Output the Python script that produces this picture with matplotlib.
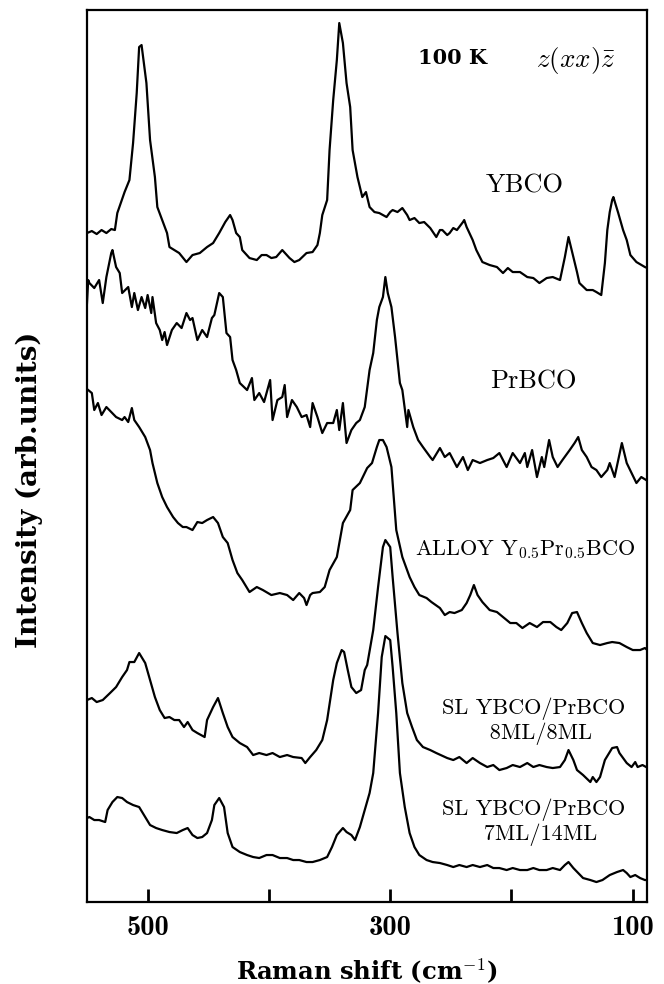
import matplotlib
matplotlib.use("Agg")
import matplotlib.pyplot as plt

# Raman spectra at 100 K, z(xx)z-bar geometry (offset curves, arb. units)
ybco_x = [550, 546, 542, 538, 534, 530, 527, 525, 519, 515, 512, 509, 507, 505, 501, 498,
          494, 492, 488, 484, 482, 474, 468, 463, 457, 451, 446, 441, 436, 432, 430, 427,
          424, 422, 416, 410, 406, 402, 398, 394, 389, 383, 379, 375, 369, 364, 360, 358,
          356, 352, 350, 347, 344, 342, 339, 336, 333, 331, 327, 323, 320, 319, 317, 313,
          309, 303, 300, 298, 294, 290, 286, 284, 280, 276, 272, 267, 262, 259, 257, 253,
          251, 248, 245, 240, 239, 237, 232, 229, 224, 218, 212, 207, 203, 199, 193, 187,
          182, 177, 171, 166, 160, 156, 153, 149, 146, 144, 138, 133, 130, 126, 123, 121,
          119, 117, 116, 112, 108, 105, 102, 97, 90, 88]
ybco_y = [669, 671, 668, 672, 669, 673, 672, 689, 710, 722, 759, 809, 855, 857, 819, 762,
          725, 695, 682, 669, 655, 649, 640, 647, 649, 655, 659, 669, 680, 687, 682, 669,
          665, 652, 644, 642, 647, 647, 644, 645, 652, 644, 640, 642, 649, 650, 657, 669,
          687, 702, 752, 802, 842, 879, 859, 819, 795, 752, 725, 705, 710, 705, 695, 690,
          689, 685, 690, 692, 690, 694, 687, 682, 684, 679, 680, 674, 665, 672, 672, 667,
          669, 674, 672, 680, 682, 675, 662, 652, 640, 637, 635, 629, 634, 630, 630, 625,
          624, 619, 624, 625, 622, 645, 665, 645, 630, 619, 612, 612, 610, 607, 639, 672,
          690, 702, 705, 689, 672, 662, 647, 640, 635, 634]

prbco_x = [550, 549, 548, 544, 540, 537, 534, 530, 529, 526, 523, 521, 516, 513, 511, 508,
           505, 502, 500, 497, 496, 493, 490, 488, 486, 484, 480, 476, 472, 468, 465, 463,
           459, 455, 451, 447, 445, 441, 438, 435, 432, 430, 427, 424, 418, 414, 412, 408,
           404, 399, 397, 393, 389, 387, 385, 381, 377, 373, 369, 366, 364, 360, 356, 352,
           347, 344, 342, 339, 336, 332, 328, 325, 321, 317, 314, 311, 309, 306, 304, 302,
           299, 296, 292, 290, 286, 285, 281, 277, 273, 267, 265, 259, 255, 251, 245, 240,
           236, 232, 226, 220, 215, 210, 204, 199, 193, 189, 187, 183, 179, 175, 173, 169,
           166, 162, 158, 152, 148, 145, 142, 138, 134, 130, 126, 121, 119, 115, 109, 105,
           101, 97, 93, 89]
prbco_y = [599, 622, 619, 614, 622, 599, 625, 649, 652, 635, 629, 609, 615, 595, 609, 592,
           605, 594, 607, 589, 605, 579, 572, 562, 570, 557, 572, 579, 574, 589, 582, 584,
           562, 572, 565, 584, 587, 609, 605, 569, 565, 542, 532, 519, 512, 524, 502, 509,
           500, 522, 482, 502, 505, 517, 485, 502, 495, 485, 487, 475, 499, 485, 469, 479,
           479, 492, 472, 499, 459, 472, 479, 482, 495, 532, 549, 582, 595, 605, 625, 609,
           595, 565, 519, 512, 475, 492, 475, 462, 455, 445, 442, 454, 445, 449, 435, 445,
           432, 442, 439, 442, 444, 449, 435, 449, 439, 449, 435, 452, 425, 445, 435, 462,
           445, 435, 442, 452, 459, 465, 452, 445, 435, 432, 425, 432, 439, 425, 459, 439,
           429, 419, 425, 422]

alloy_x = [549, 546, 544, 541, 538, 534, 530, 526, 521, 519, 516, 513, 511, 507, 502, 498,
           496, 492, 488, 484, 479, 475, 471, 468, 463, 459, 455, 451, 446, 442, 438, 434,
           430, 426, 422, 416, 410, 405, 398, 391, 385, 380, 375, 371, 369, 366, 364, 358,
           354, 350, 344, 339, 333, 331, 325, 319, 315, 311, 309, 306, 303, 299, 295, 290,
           284, 280, 276, 270, 266, 259, 255, 251, 247, 241, 237, 234, 231, 228, 224, 218,
           212, 207, 201, 196, 191, 185, 179, 174, 168, 163, 159, 154, 150, 146, 142, 138,
           133, 127, 121, 117, 111, 105, 100, 94, 90, 88]
alloy_y = [512, 509, 492, 499, 487, 495, 490, 485, 482, 485, 480, 494, 482, 475, 465, 452,
           439, 419, 405, 395, 385, 379, 375, 375, 372, 380, 379, 382, 385, 379, 365, 359,
           342, 329, 322, 310, 315, 312, 307, 309, 307, 302, 309, 304, 297, 307, 309, 310,
           315, 332, 345, 379, 392, 412, 419, 434, 439, 455, 462, 462, 455, 435, 372, 345,
           325, 315, 307, 304, 300, 294, 287, 290, 289, 292, 299, 307, 317, 307, 300, 292,
           290, 285, 279, 279, 274, 279, 275, 280, 280, 275, 272, 279, 289, 290, 279, 269,
           259, 257, 259, 260, 259, 255, 252, 252, 254, 252]

sl8_x = [550, 546, 542, 537, 531, 526, 521, 517, 515, 511, 507, 502, 498, 494, 490, 486,
         482, 478, 474, 470, 467, 463, 459, 453, 451, 446, 442, 438, 434, 430, 424, 418,
         413, 408, 402, 397, 391, 385, 380, 373, 370, 366, 361, 356, 352, 347, 344, 340,
         338, 335, 332, 328, 324, 321, 319, 314, 310, 306, 304, 300, 298, 294, 290, 286,
         282, 278, 273, 267, 262, 253, 248, 243, 237, 232, 226, 220, 215, 210, 204, 199,
         193, 187, 182, 177, 171, 166, 160, 156, 153, 149, 146, 141, 135, 133, 130, 127,
         123, 119, 117, 113, 111, 108, 105, 101, 98, 96, 92, 89]
sl8_y = [202, 204, 200, 202, 209, 215, 225, 232, 240, 240, 249, 239, 222, 205, 192, 184,
         185, 182, 182, 175, 180, 172, 169, 165, 182, 195, 204, 189, 175, 165, 159, 155,
         147, 149, 147, 149, 145, 147, 145, 144, 139, 145, 152, 162, 182, 222, 239, 252,
         250, 232, 215, 209, 212, 232, 237, 272, 315, 355, 362, 355, 325, 269, 219, 189,
         175, 162, 155, 152, 149, 144, 142, 145, 139, 144, 139, 135, 137, 132, 134, 137,
         135, 139, 135, 137, 135, 134, 135, 142, 152, 142, 132, 127, 120, 125, 120, 125,
         142, 150, 154, 155, 149, 144, 139, 135, 140, 135, 137, 135]

sl7_x = [550, 548, 544, 540, 535, 533, 529, 525, 521, 517, 512, 507, 502, 498, 493, 488,
         482, 476, 471, 467, 463, 459, 455, 451, 447, 445, 441, 437, 434, 430, 424, 418,
         413, 408, 402, 397, 391, 385, 380, 375, 369, 364, 358, 352, 348, 344, 339, 336,
         332, 329, 325, 321, 317, 314, 310, 307, 304, 300, 298, 295, 292, 288, 284, 280,
         276, 270, 265, 259, 253, 248, 243, 237, 232, 226, 220, 215, 210, 204, 199, 193,
         187, 182, 177, 171, 166, 160, 156, 153, 149, 145, 141, 135, 130, 125, 119, 113,
         108, 105, 102, 98, 94, 90, 88]
sl7_y = [84, 85, 82, 82, 80, 92, 100, 105, 104, 100, 97, 95, 85, 77, 74, 72,
         70, 69, 72, 74, 67, 64, 65, 69, 82, 97, 104, 95, 69, 55, 50, 47,
         45, 44, 47, 47, 44, 44, 42, 42, 40, 40, 42, 45, 55, 67, 74, 70,
         67, 62, 75, 92, 109, 129, 189, 245, 266, 262, 235, 189, 129, 95, 69, 55,
         47, 42, 40, 39, 37, 35, 37, 35, 37, 35, 37, 34, 34, 32, 34, 32,
         32, 34, 32, 32, 34, 32, 37, 40, 34, 29, 24, 22, 20, 22, 27, 30,
         32, 29, 25, 27, 24, 22, 22]

spectra = [(ybco_x, ybco_y), (prbco_x, prbco_y), (alloy_x, alloy_y),
           (sl8_x, sl8_y), (sl7_x, sl7_y)]

plt.rcParams['font.family'] = 'cmr10'
plt.rcParams['mathtext.fontset'] = 'cm'
plt.rcParams['axes.formatter.use_mathtext'] = True

fig = plt.figure(figsize=(6.64, 9.84), dpi=100)
ax = fig.add_axes([0.131, 0.0833, 0.843, 0.9065])

for xs, ys in spectra:
    ax.plot(xs, ys, color='black', linewidth=1.6)

ax.set_xlim(550, 88.5)
ax.set_ylim(0, 892)
ax.set_xticks([500, 400, 300, 200, 100])
ax.set_xticklabels(['500', '', '300', '', '100'], fontfamily='cmb10')
ax.set_yticks([])
ax.tick_params(axis='x', direction='in', length=9.5, width=2.0, pad=9, labelsize=20.5)
for s in ax.spines.values():
    s.set_linewidth(1.6)

bold = dict(fontfamily='DejaVu Serif', fontweight='bold')
ax.set_xlabel(r'Raman shift (cm$^{\mathbf{-1}}$)', fontsize=17.5, va='center', **bold)
ax.xaxis.set_label_coords(0.5, -0.077)
ax.set_ylabel('Intensity (arb.units)', fontsize=20, **bold)
ax.yaxis.set_label_coords(-0.079, 0.462)

ax.text(249, 844, '100 K', fontsize=15, ha='center', va='center', **bold)
ax.text(147, 842, r'$z(xx)\bar{z}$', fontsize=19.5, ha='center', va='center')
ax.text(189, 716, 'YBCO', fontsize=19, ha='center', va='center')
ax.text(182, 520, 'PrBCO', fontsize=19, ha='center', va='center')
ax.text(189, 352, r'ALLOY Y$_{0.5}$Pr$_{0.5}$BCO', fontsize=16, ha='center', va='center')
ax.text(182, 181, 'SL YBCO/PrBCO\n  8ML/8ML', fontsize=16, ha='center', va='center',
        linespacing=1.15)
ax.text(182, 80, 'SL YBCO/PrBCO\n  7ML/14ML', fontsize=16, ha='center', va='center',
        linespacing=1.15)

fig.savefig('out.png', dpi=100)
